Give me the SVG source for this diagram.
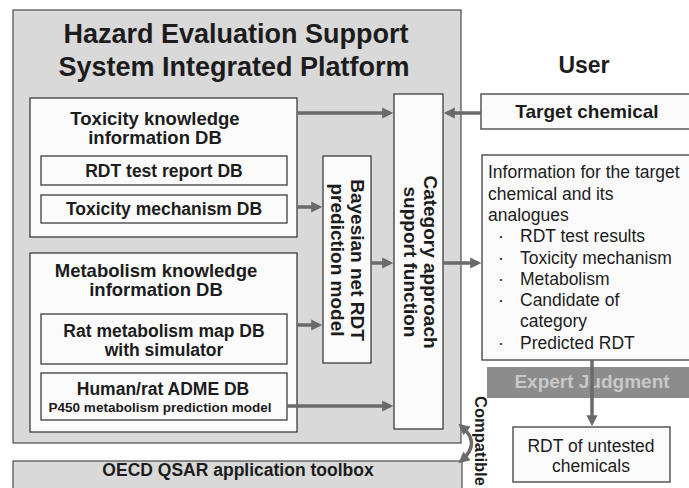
<svg xmlns="http://www.w3.org/2000/svg" width="689" height="488" viewBox="0 0 689 488">
  <defs>
    <marker id="head" viewBox="0 0 10 10" refX="7" refY="5" markerWidth="3.4" markerHeight="3.2" orient="auto-start-reverse" markerUnits="strokeWidth">
      <path d="M0,0 L10,5 L0,10 z" fill="#6a6a6a"/>
    </marker>
  </defs>
  <style>
    .t{font-family:"Liberation Sans",Arial,sans-serif;fill:#1c1c1c}
    .b{font-weight:bold}
    .box{fill:#fbfbfb;stroke:#2e2e2e;stroke-width:1.2}
    .panel{fill:#d9d9d9;stroke:#4a4a4a;stroke-width:1.2}
    .conn{stroke:#6a6a6a;stroke-width:3.5;fill:none;marker-end:url(#head)}
  </style>

  <rect width="689" height="488" fill="#ffffff"/>

  <!-- platform panel -->
  <g id="platform">
    <rect class="panel" x="13" y="10" width="448" height="433"/>
    <text class="t b" x="236" y="43" font-size="27" text-anchor="middle">Hazard Evaluation Support</text>
    <text class="t b" x="234" y="76" font-size="27" text-anchor="middle">System Integrated Platform</text>
  </g>

  <!-- toxicity knowledge DB -->
  <g id="toxicity-db">
    <rect class="box" x="30" y="98" width="267" height="139"/>
    <text class="t b" x="155" y="125" font-size="18.5" text-anchor="middle">Toxicity knowledge</text>
    <text class="t b" x="155" y="144" font-size="18.5" text-anchor="middle">information DB</text>
  </g>
  <g id="rdt-report-db">
    <rect class="box" x="41" y="156" width="246" height="29"/>
    <text class="t b" x="164" y="177" font-size="17.5" text-anchor="middle">RDT test report DB</text>
  </g>
  <g id="tox-mechanism-db">
    <rect class="box" x="41" y="195" width="246" height="28"/>
    <text class="t b" x="164" y="215" font-size="17.5" text-anchor="middle">Toxicity mechanism DB</text>
  </g>

  <!-- metabolism knowledge DB -->
  <g id="metabolism-db">
    <rect class="box" x="30" y="253" width="267" height="179"/>
    <text class="t b" x="156" y="277" font-size="18.5" text-anchor="middle">Metabolism knowledge</text>
    <text class="t b" x="156" y="296" font-size="18.5" text-anchor="middle">information DB</text>
  </g>
  <g id="rat-map-db">
    <rect class="box" x="41" y="314" width="246" height="50"/>
    <text class="t b" x="164" y="337" font-size="17.5" text-anchor="middle">Rat metabolism map DB</text>
    <text class="t b" x="164" y="356" font-size="17.5" text-anchor="middle">with simulator</text>
  </g>
  <g id="adme-db">
    <rect class="box" x="41" y="373" width="246" height="47"/>
    <text class="t b" x="163" y="395" font-size="17.5" text-anchor="middle">Human/rat ADME DB</text>
    <text class="t b" x="160" y="412" font-size="13.5" text-anchor="middle">P450 metabolism prediction model</text>
  </g>

  <!-- prediction model and category function -->
  <g id="bayesian-model">
    <rect class="box" x="323" y="156" width="48" height="207"/>
    <text class="t b" font-size="19" text-anchor="middle" transform="translate(351,260) rotate(90)">Bayesian net RDT</text>
    <text class="t b" font-size="19" text-anchor="middle" transform="translate(331,260) rotate(90)">prediction model</text>
  </g>
  <g id="category-function">
    <rect class="box" x="394" y="94" width="49" height="335"/>
    <text class="t b" font-size="19" text-anchor="middle" transform="translate(424,262) rotate(90)">Category approach</text>
    <text class="t b" font-size="19" text-anchor="middle" transform="translate(404,262) rotate(90)">support function</text>
  </g>

  <!-- OECD toolbox -->
  <g id="oecd-toolbox">
    <rect class="panel" x="13" y="461" width="449" height="40"/>
    <text class="t b" x="238" y="476" font-size="17.5" text-anchor="middle">OECD QSAR application toolbox</text>
  </g>

  <!-- user side -->
  <g id="user">
    <text class="t b" x="584" y="73" font-size="23" text-anchor="middle">User</text>
  </g>
  <g id="target-chemical">
    <rect class="box" x="481" y="94" width="215" height="35"/>
    <text class="t b" x="587" y="118" font-size="19" text-anchor="middle">Target chemical</text>
  </g>
  <g id="target-info">
    <rect class="box" x="482" y="155" width="215" height="205"/>
    <g class="t" font-size="17.5">
      <text x="488" y="178">Information for the target</text>
      <text x="488" y="200">chemical and its</text>
      <text x="488" y="221">analogues</text>
      <text x="498" y="242">·</text><text x="520" y="242">RDT test results</text>
      <text x="498" y="264">·</text><text x="520" y="264">Toxicity mechanism</text>
      <text x="498" y="285">·</text><text x="520" y="285">Metabolism</text>
      <text x="498" y="306">·</text><text x="520" y="306">Candidate of</text>
      <text x="520" y="327">category</text>
      <text x="498" y="349">·</text><text x="520" y="349">Predicted RDT</text>
    </g>
  </g>
  <g id="expert-judgment">
    <rect x="487" y="367" width="205" height="31" fill="#8c8c8c"/>
    <text class="t b" x="592" y="388" font-size="19" text-anchor="middle" style="fill:#c9c9c9">Expert Judgment</text>
  </g>
  <g id="untested-rdt">
    <rect class="box" x="513" y="427" width="157" height="55"/>
    <text class="t" x="591" y="452" font-size="17.5" text-anchor="middle">RDT of untested</text>
    <text class="t" x="591" y="472" font-size="17.5" text-anchor="middle">chemicals</text>
  </g>
  <g id="compatible-label">
    <text class="t b" font-size="16.5" transform="translate(475,396) rotate(90)">Compatible</text>
  </g>

  <!-- connectors -->
  <g id="connectors">
    <path class="conn" d="M297,113 H390"/>
    <path class="conn" d="M481,113 H447"/>
    <path class="conn" d="M297,207 H319"/>
    <path class="conn" d="M297,325 H319"/>
    <path class="conn" d="M371,263 H390"/>
    <path class="conn" d="M443,263 H478"/>
    <path class="conn" d="M287,406 H390"/>
    <path class="conn" d="M592,360 V423"/>
    <path class="conn" d="M461,426 Q482,443 461,461" style="marker-start:url(#head)"/>
  </g>
</svg>
